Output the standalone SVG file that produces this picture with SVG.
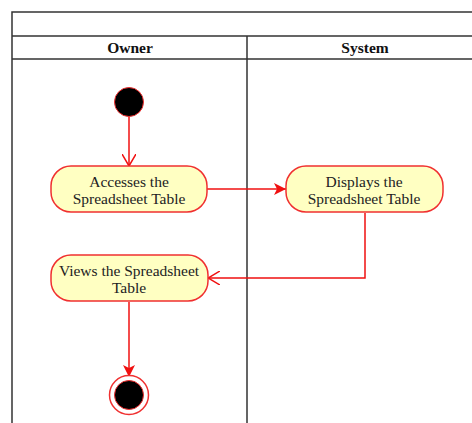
<svg xmlns="http://www.w3.org/2000/svg" width="472" height="423" viewBox="0 0 472 423">
<style>
.frame{fill:none;stroke:#333;stroke-width:1.5}
.lane{font-family:"Liberation Serif",serif;font-size:15.5px;font-weight:bold;fill:#111;text-anchor:middle}
.act{fill:#FFFFC2;stroke:#F03030;stroke-width:1.5}
.lbl{font-family:"Liberation Serif",serif;font-size:15.5px;fill:#222;text-anchor:middle}
.edge{fill:none;stroke:#F01010;stroke-width:1.5}
</style>
<defs>
<marker id="open" viewBox="0 0 12 14" refX="12" refY="7" markerWidth="12" markerHeight="14" markerUnits="userSpaceOnUse" orient="auto">
<path d="M0,0 L12,7 L0,14" fill="none" stroke="#F01010" stroke-width="1.5"/>
</marker>
<marker id="fill" viewBox="0 0 12 12" refX="12" refY="6" markerWidth="12" markerHeight="12" markerUnits="userSpaceOnUse" orient="auto">
<path d="M0,0 L12,6 L0,12 L3,6 Z" fill="#F01010"/>
</marker>
</defs>
<g id="swimlanes">
<path class="frame" d="M12,423 V12 H480 M12,36 H480 M12,59 H480 M247,36 V423"/>
<text class="lane" x="130" y="53">Owner</text>
<text class="lane" x="365" y="53">System</text>
</g>
<g id="connectors">
<path class="edge" d="M129,117 V166" marker-end="url(#open)"/>
<path class="edge" d="M207,189 H286" marker-end="url(#fill)"/>
<path class="edge" d="M365,213 V278 H208" marker-end="url(#open)"/>
<path class="edge" d="M129,302 V377" marker-end="url(#fill)"/>
</g>
<g id="start">
<circle cx="129" cy="102" r="14.5" fill="#000" stroke="#F03030" stroke-width="1"/>
</g>
<g id="accesses">
<rect class="act" x="51" y="166" width="156" height="46" rx="20"/>
<text class="lbl" x="129" y="187">Accesses the</text>
<text class="lbl" x="129" y="204">Spreadsheet Table</text>
</g>
<g id="displays">
<rect class="act" x="286" y="166" width="157" height="46" rx="20"/>
<text class="lbl" x="364" y="187">Displays the</text>
<text class="lbl" x="364" y="204">Spreadsheet Table</text>
</g>
<g id="views">
<rect class="act" x="51" y="255" width="157" height="46" rx="20"/>
<text class="lbl" x="129" y="276">Views the Spreadsheet</text>
<text class="lbl" x="129" y="293">Table</text>
</g>
<g id="end">
<circle cx="129" cy="395" r="19.5" fill="#fff" stroke="#F03030" stroke-width="1.5"/>
<circle cx="129" cy="395" r="14.5" fill="#000" stroke="#F03030" stroke-width="1"/>
</g>
</svg>
